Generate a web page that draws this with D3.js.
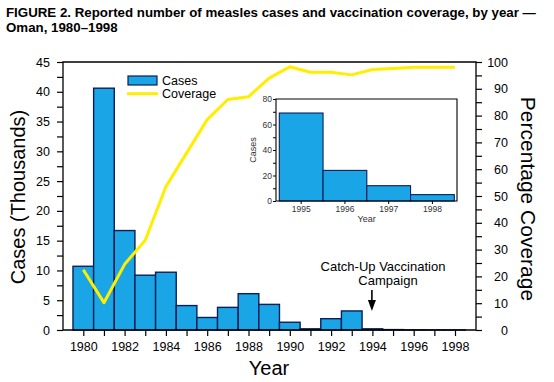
<!DOCTYPE html>
<html><head><meta charset="utf-8">
<script src="https://cdn.jsdelivr.net/npm/d3@7"></script>
<style>body{margin:0;background:#fff}svg{display:block;font-family:"Liberation Sans",Arial,Helvetica,sans-serif}</style>
</head><body>
<svg id="c" width="554" height="382"></svg>
<script>
const years = [1980,1981,1982,1983,1984,1985,1986,1987,1988,1989,1990,1991,1992,1993,1994,1995,1996,1997,1998];
const casesThousands = [10.7,40.6,16.7,9.2,9.7,4.1,2.1,3.8,6.1,4.3,1.3,0.2,1.9,3.2,0.2,0.069,0.024,0.012,0.005];
const coverage = [22.5,10.2,24.5,33.5,53.5,66,78.5,86,87,94,98.2,96.2,96.2,95.2,97.2,97.6,98,98,98];
const yearTickLabels = [1980,1982,1984,1986,1988,1990,1992,1994,1996,1998];
const leftTicks = [0,5,10,15,20,25,30,35,40,45];
const rightTicks = [0,10,20,30,40,50,60,70,80,90,100];
const insetYears = [1995,1996,1997,1998];
const insetCases = [69,24,12,5];
const insetTicks = [0,20,40,60,80];

const BLUE = "#1aa6e6", NAVY = "#0a1f55", YELLOW = "#ffee00";
const svg = d3.select("#c");

// title
const t = svg.append("text").attr("font-weight","bold").attr("font-size",13.3).attr("fill","#000");
t.append("tspan").attr("x",6).attr("y",17).text("FIGURE 2. Reported number of measles cases and vaccination coverage, by year \u2014");
t.append("tspan").attr("x",6).attr("y",32).text("Oman, 1980\u20131998");

const L=63, R=476, T=62, B=330;
const x = d3.scaleLinear().domain([1980,1998]).range([83.3,455]);
const yL = d3.scaleLinear().domain([0,45]).range([B,T]);
const yR = d3.scaleLinear().domain([0,100]).range([B,T]);

// bars
svg.append("g").selectAll("rect").data(years).join("rect")
  .attr("x", d=>x(d-0.5)).attr("width", d=>x(d+0.5)-x(d-0.5))
  .attr("y", (d,i)=>yL(casesThousands[i])).attr("height",(d,i)=>B-yL(casesThousands[i]))
  .attr("fill",BLUE).attr("stroke",NAVY).attr("stroke-width",1.4);

// coverage line
svg.append("path").datum(years)
  .attr("d", d3.line().x(d=>x(d)).y((d,i)=>yR(coverage[i])))
  .attr("fill","none").attr("stroke",YELLOW).attr("stroke-width",3).attr("stroke-linejoin","round");

// frame: left, bottom, top, right
svg.append("path").attr("d",`M${L},${T}H${R}V${B}H${L}Z`).attr("fill","none").attr("stroke","#000").attr("stroke-width",1.3);

// left axis
const la = svg.append("g").attr("transform",`translate(${L},0)`)
  .call(d3.axisLeft(yL).tickValues(d3.range(0,45.1,2.5)).tickSize(6).tickFormat(d=>leftTicks.includes(d)?d:""));
la.select(".domain").remove();
la.selectAll("line").attr("stroke","#000").attr("stroke-width",1.2);
la.selectAll("text").attr("font-size",12.5).attr("font-family","Liberation Sans, Arial, sans-serif").attr("x",-13).attr("fill","#000");

// right axis
const ra = svg.append("g").attr("transform",`translate(${R},0)`)
  .call(d3.axisRight(yR).tickValues(d3.range(0,100.1,5)).tickSize(6).tickFormat(d=>rightTicks.includes(d)?d:""));
ra.select(".domain").remove();
ra.selectAll("line").attr("stroke","#000").attr("stroke-width",1.2);
ra.selectAll("text").attr("font-size",12.5).attr("font-family","Liberation Sans, Arial, sans-serif")
  .attr("text-anchor","end").attr("x",32).attr("fill","#000");

// bottom axis
const ba = svg.append("g").attr("transform",`translate(0,${B})`)
  .call(d3.axisBottom(x).tickValues(years).tickSize(6).tickFormat(d=>yearTickLabels.includes(d)?d:""));
ba.select(".domain").remove();
ba.selectAll("line").attr("stroke","#000").attr("stroke-width",1.2);
ba.selectAll("text").attr("font-size",12.5).attr("font-family","Liberation Sans, Arial, sans-serif").attr("dy","1.05em").attr("y",8).attr("fill","#000");

// axis titles
svg.append("text").attr("transform","translate(25,197) rotate(-90)").attr("text-anchor","middle")
  .attr("font-size",20).attr("fill","#000").text("Cases (Thousands)");
svg.append("text").attr("transform","translate(521,199) rotate(90)").attr("text-anchor","middle")
  .attr("font-size",21).attr("fill","#000").text("Percentage Coverage");
svg.append("text").attr("x",269).attr("y",375).attr("text-anchor","middle")
  .attr("font-size",20).attr("fill","#000").text("Year");

// legend
svg.append("rect").attr("x",128).attr("y",76).attr("width",29).attr("height",9).attr("fill",BLUE).attr("stroke",NAVY).attr("stroke-width",1.2);
svg.append("text").attr("x",162).attr("y",84.5).attr("font-size",12.5).attr("fill","#000").text("Cases");
svg.append("line").attr("x1",127).attr("x2",158).attr("y1",93.7).attr("y2",93.7).attr("stroke",YELLOW).attr("stroke-width",3);
svg.append("text").attr("x",162).attr("y",97.5).attr("font-size",12.5).attr("fill","#000").text("Coverage");

// annotation
svg.append("text").attr("x",383).attr("y",270.5).attr("text-anchor","middle").attr("font-size",13).attr("fill","#000").text("Catch-Up Vaccination");
svg.append("text").attr("x",388).attr("y",285).attr("text-anchor","middle").attr("font-size",13).attr("fill","#000").text("Campaign");
svg.append("line").attr("x1",x(1994)-0.5).attr("x2",x(1994)-0.5).attr("y1",290).attr("y2",302).attr("stroke","#000").attr("stroke-width",1.6);
svg.append("path").attr("d",`M${x(1994)-4.5},300L${x(1994)+3.5},300L${x(1994)-0.5},311Z`).attr("fill","#000");

// inset
const iL=276, iR=457, iT=99, iB=201;
const ix = d3.scaleBand().domain(insetYears).range([279.3,454.3]).padding(0);
const iy = d3.scaleLinear().domain([0,80]).range([iB,iT]);
svg.append("rect").attr("x",iL).attr("y",iT).attr("width",iR-iL).attr("height",iB-iT).attr("fill","#fff");
svg.append("g").selectAll("rect").data(insetYears).join("rect")
  .attr("x",d=>ix(d)).attr("width",ix.bandwidth())
  .attr("y",(d,i)=>iy(insetCases[i])).attr("height",(d,i)=>iB-iy(insetCases[i]))
  .attr("fill",BLUE).attr("stroke",NAVY).attr("stroke-width",1.1);
svg.append("path").attr("d",`M${iL},${iT}H${iR}V${iB}H${iL}Z`).attr("fill","none").attr("stroke","#000").attr("stroke-width",1.1);
const iya = svg.append("g").attr("transform",`translate(${iL},0)`)
  .call(d3.axisLeft(iy).tickValues(d3.range(0,80.1,10)).tickSize(3).tickFormat(d=>insetTicks.includes(d)?d:""));
iya.select(".domain").remove();
iya.selectAll("line").attr("stroke","#000");
iya.selectAll("text").attr("font-size",8.5).attr("font-family","Liberation Sans, Arial, sans-serif").attr("fill","#333").attr("x",-4);
const ixa = svg.append("g").attr("transform",`translate(0,${iB})`)
  .call(d3.axisBottom(ix).tickSize(3));
ixa.select(".domain").remove();
ixa.selectAll("line").attr("stroke","#000");
ixa.selectAll("text").attr("font-size",8.5).attr("font-family","Liberation Sans, Arial, sans-serif").attr("fill","#333").attr("y",5);
svg.append("text").attr("x",366.7).attr("y",222).attr("text-anchor","middle").attr("font-size",9).attr("fill","#333").text("Year");
svg.append("text").attr("transform","translate(256,150) rotate(-90)").attr("text-anchor","middle").attr("font-size",9).attr("fill","#333").text("Cases");
</script>
</body></html>
